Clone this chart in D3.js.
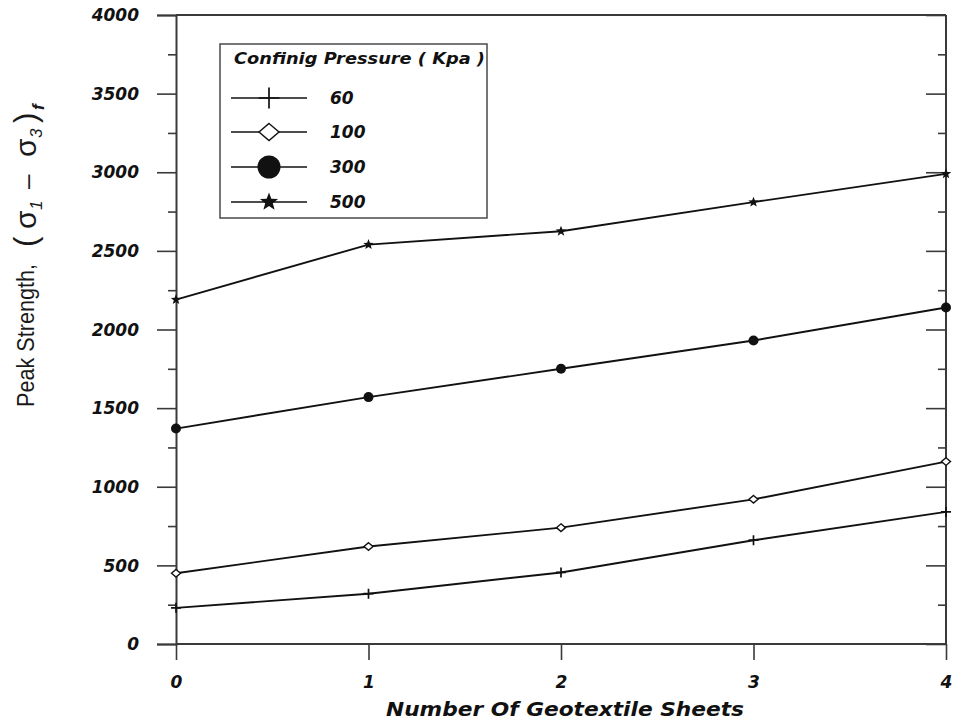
<!DOCTYPE html>
<html>
<head>
<meta charset="utf-8">
<script src="https://cdn.jsdelivr.net/npm/d3@7"></script>
<style>
  html, body { margin: 0; padding: 0; background: #fff; }
  svg { display: block; }
  .tick text { font-family: "DejaVu Sans", "Liberation Sans", Arial, sans-serif; font-weight: bold; font-style: italic; fill: #111; }
</style>
</head>
<body>
<svg id="chart" width="954" height="722"></svg>
<script>
// Peak strength vs. number of geotextile sheets, per confining pressure
const sheets = [0, 1, 2, 3, 4];
const pressures = ["60", "100", "300", "500"];
const strength60  = [230, 320, 455, 660, 840];
const strength100 = [450, 620, 740, 920, 1160];
const strength300 = [1370, 1570, 1750, 1930, 2140];
const strength500 = [2190, 2540, 2625, 2810, 2990];
const yMajorTicks = [0, 500, 1000, 1500, 2000, 2500, 3000, 3500, 4000];
const yMinorTicks = [250, 750, 1250, 1750, 2250, 2750, 3250, 3750];
const xTicks = [0, 1, 2, 3, 4];

const seriesValues = [strength60, strength100, strength300, strength500];
const markerKinds = ["plus", "diamond", "circle", "star"];

const svg = d3.select("#chart");
const x = d3.scaleLinear().domain([0, 4]).range([176, 946]);
const y = d3.scaleLinear().domain([0, 4000]).range([644, 15]);

const axisColor = "#3a3a3a";
const boldFont = "'DejaVu Sans', 'Liberation Sans', Arial, sans-serif";

// marker shapes, size = nominal diameter in px
function markerPath(kind, s) {
  const h = s / 2;
  if (kind === "plus") return `M${-h},0H${h}M0,${-h}V${h}`;
  if (kind === "diamond") return `M0,${-h * 0.85}L${h},0L0,${h * 0.85}L${-h},0Z`;
  if (kind === "circle") return d3.symbol(d3.symbolCircle, Math.PI * h * h)();
  // five-pointed star
  const pts = [];
  for (let i = 0; i < 10; i++) {
    const r = i % 2 === 0 ? h : h * 0.42;
    const a = -Math.PI / 2 + i * Math.PI / 5;
    pts.push([r * Math.cos(a), r * Math.sin(a)]);
  }
  return "M" + pts.map(p => p[0].toFixed(2) + "," + p[1].toFixed(2)).join("L") + "Z";
}
function drawMarker(g, kind, cx, cy, s) {
  const p = g.append("path")
    .attr("transform", `translate(${cx},${cy})`)
    .attr("d", markerPath(kind, s));
  if (kind === "plus") p.attr("fill", "none").attr("stroke", "#111").attr("stroke-width", 1.7);
  else if (kind === "diamond") p.attr("fill", "#fff").attr("stroke", "#111").attr("stroke-width", 1.4);
  else p.attr("fill", "#111").attr("stroke", "none");
}

// ---- axes ----
function styleAxis(g) {
  g.selectAll("path.domain").attr("stroke", axisColor).attr("stroke-width", 2);
  g.selectAll(".tick line").attr("stroke", axisColor).attr("stroke-width", 1.6);
}

// left axis: outward major + minor ticks with labels
const leftMajor = svg.append("g").attr("transform", `translate(${x(0)},0)`)
  .call(d3.axisLeft(y).tickValues(yMajorTicks).tickSize(19).tickPadding(18).tickFormat(d3.format("d")));
leftMajor.selectAll(".tick text").attr("font-size", 17).attr("dy", "0.33em");
styleAxis(leftMajor);
const leftMinor = svg.append("g").attr("transform", `translate(${x(0)},0)`)
  .call(d3.axisLeft(y).tickValues(yMinorTicks).tickSize(8).tickFormat(""));
styleAxis(leftMinor);
leftMinor.select("path.domain").remove();

// right axis: ticks pointing into the plot
const rightMajor = svg.append("g").attr("transform", `translate(${x(4)},0)`)
  .call(d3.axisLeft(y).tickValues(yMajorTicks).tickSize(20).tickFormat(""));
styleAxis(rightMajor);
rightMajor.select("path.domain").remove();
const rightMinor = svg.append("g").attr("transform", `translate(${x(4)},0)`)
  .call(d3.axisLeft(y).tickValues(yMinorTicks).tickSize(8).tickFormat(""));
styleAxis(rightMinor);
rightMinor.select("path.domain").remove();
svg.append("line")
  .attr("x1", x(4)).attr("x2", x(4)).attr("y1", y(4000)).attr("y2", y(0))
  .attr("stroke", axisColor).attr("stroke-width", 2);

// top frame line
svg.append("line")
  .attr("x1", x(0)).attr("x2", x(4)).attr("y1", y(4000)).attr("y2", y(4000))
  .attr("stroke", axisColor).attr("stroke-width", 2);

// bottom axis
const bottom = svg.append("g").attr("transform", `translate(0,${y(0)})`)
  .call(d3.axisBottom(x).tickValues(xTicks).tickSize(16).tickPadding(16).tickFormat(d3.format("d")));
bottom.selectAll(".tick text").attr("font-size", 17);
styleAxis(bottom);
bottom.select("path.domain").attr("d", `M${x(0)},0H${x(4)}`);

// axis titles
svg.append("text")
  .attr("x", 386).attr("y", 716)
  .attr("font-family", boldFont)
  .attr("font-weight", "bold").attr("font-style", "italic")
  .attr("font-size", 20).attr("fill", "#111")
  .attr("textLength", 358).attr("lengthAdjust", "spacingAndGlyphs")
  .text("Number Of Geotextile Sheets");

// y title: plain words, then the stress-difference expression
svg.append("text")
  .attr("transform", "translate(34,407) rotate(-90)")
  .attr("font-family", "'Liberation Sans Narrow', 'Liberation Sans', Arial, sans-serif")
  .attr("font-size", 23).attr("fill", "#1a1a1a")
  .attr("textLength", 143).attr("lengthAdjust", "spacingAndGlyphs")
  .text("Peak Strength,");

// each glyph of (σ1 − σ3)f placed along the rotated baseline
const sigParts = [
  { t: 0,   dy: 0, size: 31, style: "normal", weight: "normal", text: "(" },
  { t: 18,  dy: 0, size: 30, style: "normal", weight: "normal", text: "σ" },
  { t: 37,  dy: 6, size: 17, style: "italic", weight: "normal", text: "1" },
  { t: 58,  dy: 0, size: 26, style: "normal", weight: "normal", text: "–" },
  { t: 90,  dy: 0, size: 30, style: "normal", weight: "normal", text: "σ" },
  { t: 109, dy: 6, size: 17, style: "italic", weight: "normal", text: "3" },
  { t: 124, dy: 0, size: 31, style: "normal", weight: "normal", text: ")" },
  { t: 137, dy: 8, size: 17, style: "italic", weight: "bold",   text: "f" }
];
const sig = svg.append("g").attr("transform", "translate(36,247) rotate(-90)");
sig.selectAll("text").data(sigParts).join("text")
  .attr("x", d => d.t).attr("y", d => d.dy)
  .attr("font-family", "'Liberation Sans', Arial, sans-serif")
  .attr("font-size", d => d.size)
  .attr("font-style", d => d.style)
  .attr("font-weight", d => d.weight)
  .attr("fill", "#1a1a1a")
  .text(d => d.text);

// ---- series ----
const line = d3.line().x((d, i) => x(sheets[i])).y(d => y(d));
const markerSizeChart = { plus: 10, diamond: 9, circle: 10, star: 11 };
seriesValues.forEach((vals, k) => {
  const g = svg.append("g");
  g.append("path").datum(vals).attr("d", line)
    .attr("fill", "none").attr("stroke", "#111").attr("stroke-width", 1.9);
  vals.forEach((v, i) => drawMarker(g, markerKinds[k], x(sheets[i]), y(v), markerSizeChart[markerKinds[k]]));
});

// ---- legend ----
const legend = svg.append("g");
legend.append("rect")
  .attr("x", 220).attr("y", 44).attr("width", 267).attr("height", 174)
  .attr("fill", "#fff").attr("stroke", "#4a4a4a").attr("stroke-width", 1.5);
legend.append("text")
  .attr("x", 234).attr("y", 64)
  .attr("font-family", boldFont)
  .attr("font-weight", "bold").attr("font-style", "italic")
  .attr("font-size", 16).attr("fill", "#111")
  .attr("textLength", 251).attr("lengthAdjust", "spacingAndGlyphs")
  .text("Confinig Pressure ( Kpa )");
const legendY = [98, 132, 167, 202];
const markerSizeLegend = { plus: 21, diamond: 20, circle: 23, star: 19 };
pressures.forEach((p, k) => {
  const cy = legendY[k];
  legend.append("line").attr("x1", 231).attr("x2", 307).attr("y1", cy).attr("y2", cy)
    .attr("stroke", "#111").attr("stroke-width", 1.6);
  drawMarker(legend, markerKinds[k], 269, cy, markerSizeLegend[markerKinds[k]]);
  legend.append("text")
    .attr("x", 330).attr("y", cy + 6)
    .attr("font-family", boldFont)
    .attr("font-weight", "bold").attr("font-style", "italic")
    .attr("font-size", 17).attr("fill", "#111")
    .text(p);
});
</script>
</body>
</html>
